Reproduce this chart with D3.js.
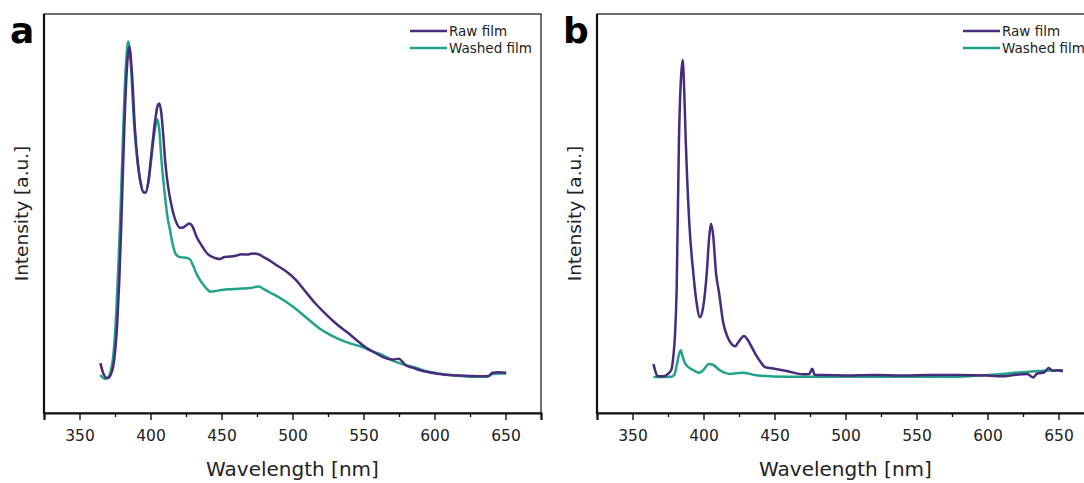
<!DOCTYPE html>
<html>
<head>
<meta charset="utf-8">
<script src="https://cdn.jsdelivr.net/npm/d3@7"></script>
<style>
  body { margin: 0; background: #fff; }
  svg { display: block; font-family: "DejaVu Sans", sans-serif; }
</style>
</head>
<body>
<svg id="chart" width="1084" height="483"></svg>
<script>
// photoluminescence spectra, intensity in arbitrary units
var wavelengthTicks = [350, 400, 450, 500, 550, 600, 650];
var seriesNames = ['Raw film', 'Washed film'];
var seriesColors = ['#472c7b', '#22a28a'];
var panelLabels = ['a', 'b'];

var rawA = [[364.7,12.5],[366.5,10.2],[369.5,8.7],[372,9.6],[374.5,13.5],[376.5,22],[378,33],[379.5,48],[381.5,70.9],[383.5,87],[385.1,91.8],[386.8,86],[389.1,70.9],[391,63],[393,57.8],[395,55.3],[396.5,55.2],[398.5,58],[400.5,64.5],[403,72.5],[405,77],[406.2,77.6],[407.5,75.5],[409,69.5],[410.5,62.5],[412.5,56.5],[414.5,52.5],[416.1,50],[418.5,47.5],[420.8,46.4],[423,46.5],[425,47.0],[427.3,47.5],[429.5,46.8],[432.5,44.1],[436,42.0],[439.6,40.1],[443,39.2],[446,38.8],[449,38.6],[452,39.1],[456,39.2],[460,39.4],[464,39.8],[468,39.7],[472,40.0],[476,39.8],[480,39.0],[484,38.2],[488,37.2],[493,36.1],[497,35.1],[502,33.5],[509,30.5],[516,27.5],[524,24.6],[531,22.3],[539,20.1],[545,18.3],[551,16.6],[558,15.1],[566,13.7],[571,13.4],[575,13.6],[577,13.0],[580,11.9],[585,11.3],[590,10.7],[596,10.2],[603,9.8],[610,9.5],[618,9.4],[625,9.3],[632,9.2],[638,9.3],[641,10.1],[645,10.2],[650.5,10.1]];

var washedA = [[364.7,9.5],[367.5,8.6],[370,8.9],[372,10.5],[374,15],[376,26],[377.5,38],[379,52],[380.5,68],[382.5,86],[384.4,93.1],[386,88],[388.5,72],[391,62.5],[393,57.8],[395,55.4],[396.5,55.3],[398.5,57.8],[400.5,63.5],[402.5,69.5],[404.7,73.6],[406,71.5],[407.9,62.6],[410,55],[412,49],[413.7,45.9],[415.5,42.5],[417.5,40],[419.6,39.2],[422,39.0],[425,38.9],[427.8,38.5],[430.5,36.5],[432.5,34.8],[434.9,33.3],[437.5,32.0],[440,31.0],[442,30.4],[446,30.6],[450,30.8],[455,31.0],[460,31.1],[465,31.2],[470,31.3],[476.3,31.7],[480,31.0],[484,30.2],[487.4,29.6],[494,28.2],[502,26.2],[510,23.8],[519,21.2],[525,19.9],[531.5,18.7],[540,17.5],[548.7,16.6],[556,15.5],[563.4,14.5],[570,13.2],[578,12.2],[587.9,11.2],[595,10.4],[602.6,9.9],[612,9.5],[624.7,9.1],[637,9.1],[641,9.8],[645,9.9],[650.5,9.9]];

var rawB = [[364.8,12.3],[366.5,10.0],[368,9.2],[372,9.2],[375,9.8],[377.5,11.0],[378.7,14.0],[380,20],[381.1,31],[382.7,68.2],[384,83],[385.3,88.5],[386.3,82],[387.5,68.2],[390,47.6],[392.8,35.1],[395,28],[397.5,24.0],[399.5,26],[402.3,35.1],[404,44],[405.3,47.4],[406.8,44.5],[408.8,35.1],[411,30],[413.9,22.6],[417,19],[420,17.2],[422.2,16.7],[425,18],[428.5,19.3],[431,18.4],[434,16.5],[437,14.5],[440,12.9],[443.3,11.5],[450,11.1],[460,10.4],[470,9.7],[474.5,9.8],[476.6,11.1],[478.3,9.6],[485,9.5],[500,9.4],[520,9.5],[540,9.4],[560,9.5],[580,9.5],[600,9.4],[610,9.2],[620,9.6],[628,9.8],[632,8.9],[635,9.9],[640,10.2],[643,11.3],[646,10.6],[650,10.7],[653,10.4]];

var washedB = [[364.8,9.0],[377.4,9.1],[379.5,9.6],[381.1,11.9],[383.8,15.7],[385,14.5],[387.2,12.3],[392,10.9],[396.9,10.1],[400,10.8],[403.7,12.3],[406.6,12.1],[411.5,10.7],[418.7,9.8],[427.2,10.1],[438.2,9.4],[457.6,9.1],[500,9.1],[540,9.1],[579,9.1],[603.3,9.6],[627.6,10.3],[640,10.6],[653.1,10.7]];

var panels = [
  { left: 44, series: [rawA, washedA] },
  { left: 597, series: [rawB, washedB] }
];

var plotTop = 14, plotBottom = 413, plotW = 497;
var svg = d3.select('#chart');

panels.forEach(function (p, i) {
  var right = p.left + plotW;
  var x = d3.scaleLinear().domain([325, 675]).range([p.left, right]);
  var y = d3.scaleLinear().domain([0, 100]).range([plotBottom, plotTop]);
  var g = svg.append('g');

  g.append('clipPath').attr('id', 'clip' + i)
    .append('rect').attr('x', p.left).attr('y', plotTop)
    .attr('width', plotW).attr('height', plotBottom - plotTop);

  var line = d3.line()
    .x(function (d) { return x(d[0]); })
    .y(function (d) { return y(d[1]); })
    .curve(d3.curveMonotoneX);

  // washed first, raw drawn over it
  [1, 0].forEach(function (k) {
    g.append('path')
      .datum(p.series[k])
      .attr('clip-path', 'url(#clip' + i + ')')
      .attr('fill', 'none')
      .attr('stroke', seriesColors[k])
      .attr('stroke-width', 2.5)
      .attr('stroke-linejoin', 'round')
      .attr('d', line);
  });

  // frame
  g.append('rect')
    .attr('x', p.left).attr('y', plotTop)
    .attr('width', plotW).attr('height', plotBottom - plotTop)
    .attr('fill', 'none').attr('stroke', '#222').attr('stroke-width', 1.3);

  // minor ticks
  var minor = d3.range(325, 676, 50);
  g.append('g')
    .attr('transform', 'translate(0,' + plotBottom + ')')
    .call(d3.axisBottom(x).tickValues(minor).tickSize(4).tickFormat(''))
    .call(function (a) { a.select('.domain').remove(); });

  var ax = g.append('g')
    .attr('transform', 'translate(0,' + plotBottom + ')')
    .call(d3.axisBottom(x).tickValues(wavelengthTicks).tickSize(7).tickPadding(10));
  ax.select('.domain').attr('stroke', '#111').attr('stroke-width', 2.2);
  ax.selectAll('text').attr('font-size', 15.5).attr('fill', '#222')
    .attr('font-family', '"DejaVu Sans", sans-serif');
  g.selectAll('.tick line').attr('stroke', '#111').attr('stroke-width', 1.4);

  // left axis line (heavier)
  g.append('line')
    .attr('x1', p.left).attr('x2', p.left)
    .attr('y1', plotTop).attr('y2', plotBottom + 1)
    .attr('stroke', '#111').attr('stroke-width', 2.2);

  // axis titles
  g.append('text')
    .attr('x', p.left + plotW / 2).attr('y', 476)
    .attr('text-anchor', 'middle').attr('font-size', 20).attr('fill', '#222')
    .text('Wavelength [nm]');
  g.append('text')
    .attr('transform', 'translate(' + (p.left - 16) + ',' + ((plotTop + plotBottom) / 2) + ') rotate(-90)')
    .attr('text-anchor', 'middle').attr('font-size', 18.5).attr('fill', '#222')
    .text('Intensity [a.u.]');

  // panel letter
  g.append('text')
    .attr('x', p.left - 34).attr('y', 43)
    .attr('font-size', 36).attr('font-weight', 'bold').attr('fill', '#000')
    .text(panelLabels[i]);

  // legend
  var lg = g.append('g').attr('transform', 'translate(' + (right - 131) + ',31)');
  seriesNames.forEach(function (name, k) {
    lg.append('line')
      .attr('x1', 0).attr('x2', 37).attr('y1', k * 17).attr('y2', k * 17)
      .attr('stroke', seriesColors[k]).attr('stroke-width', 2.6);
    lg.append('text')
      .attr('x', 39).attr('y', k * 17 + 5)
      .attr('font-size', 13.5).attr('fill', '#222')
      .text(name);
  });
});
</script>
</body>
</html>
